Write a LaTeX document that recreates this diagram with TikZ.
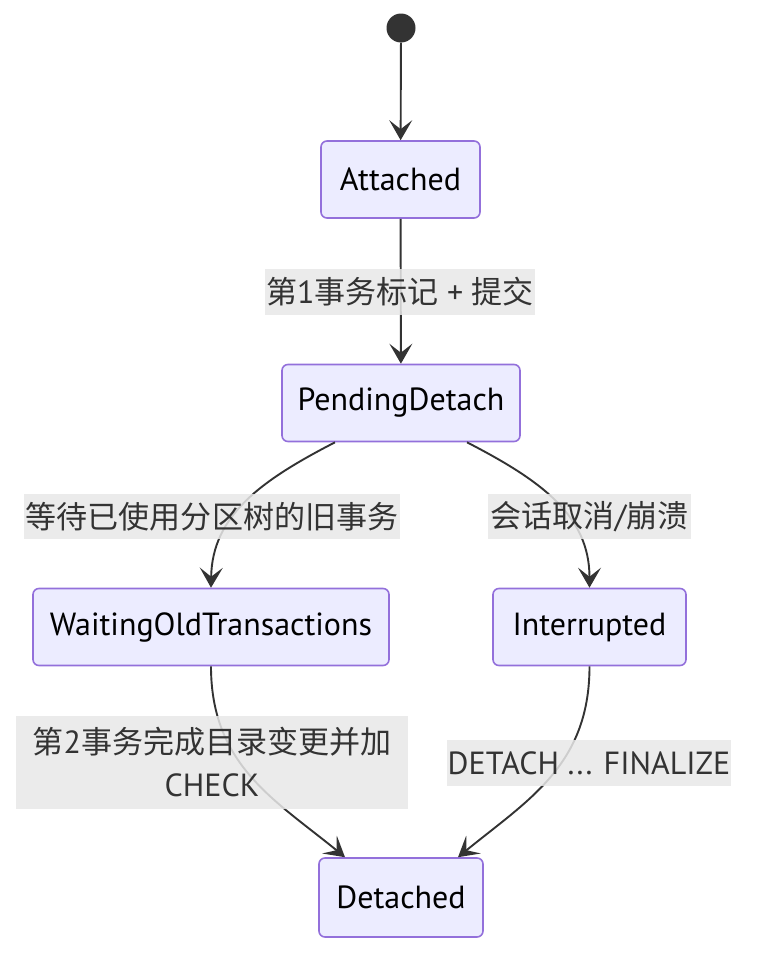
\documentclass[tikz,border=0pt]{standalone}
\usepackage{fontspec}
\setmainfont{PT Sans}
\newfontfamily\cjk{Noto Sans CJK SC}[Scale=0.97]
\usetikzlibrary{arrows.meta}
\definecolor{nodefill}{HTML}{ECECFF}
\definecolor{nodeline}{HTML}{9370DB}
\definecolor{edgecol}{HTML}{333333}
\definecolor{labbg}{HTML}{E8E8E8}
\begin{document}
\begin{tikzpicture}[x=1pt,y=-1pt,
  state/.style={draw=nodeline,fill=nodefill,line width=1.6pt,rounded corners=6pt,
    minimum height=77pt,inner sep=0pt,font=\fontsize{32}{38}\selectfont,text=black},
  lab/.style={fill=labbg,fill opacity=0.85,text opacity=1,text=edgecol,inner sep=0pt,
    font=\fontsize{32}{43}\selectfont,align=center},
  edge/.style={draw=edgecol,line width=1.9pt,-{Stealth[length=20pt,width=23pt,inset=9pt]}}]
\useasboundingbox (0,0) rectangle (764,972);
\node[circle,fill=edgecol,minimum size=29pt,inner sep=0pt] (start) at (401,28) {};
\node[state,minimum width=159pt] (att) at (400.5,179.5) {Attached};
\node[state,minimum width=238pt] (pd) at (401,403) {PendingDetach};
\node[state,minimum width=356pt] (wot) at (211,627) {WaitingOldTransactions};
\node[state,minimum width=193pt] (int) at (589.5,627) {Interrupted};
\node[state,minimum width=164pt,minimum height=79pt] (det) at (401,897.5) {Detached};

\draw[edge] (start) -- (att);
\draw[edge] (att) -- (pd);
\draw[edge] ([xshift=-66pt]pd.south) .. controls (262,480) and (212,515) .. (wot.north);
\draw[edge] ([xshift=66pt]pd.south) .. controls (540,480) and (589.5,515) .. (int.north);
\draw[edge] (wot.south) .. controls (211,765) and (275,800) .. ([xshift=-56pt]det.north);
\draw[edge] (int.south) .. controls (589.5,765) and (528,800) .. ([xshift=57pt]det.north);

\node[lab,minimum width=270pt,minimum height=46pt] (l1) at (400,292) {{\cjk 第}1{\cjk 事务标记} + {\cjk 提交}};
\node[lab,minimum width=376pt,minimum height=45pt] (l2) at (212,516.5) {{\cjk 等待已使用分区树的旧事务}};
\node[lab,minimum width=203pt,minimum height=45pt] (l3) at (589.5,516.5) {{\cjk 会话取消}/{\cjk 崩溃}};
\node[lab,minimum width=392pt,minimum height=93pt] (l4) at (212,762.5) {{\cjk 第}2{\cjk 事务完成目录变更并加}\\CHECK};
\node[lab,minimum width=284pt,minimum height=46pt] (l5) at (589,763) {DETACH ... FINALIZE};
\end{tikzpicture}
\end{document}
